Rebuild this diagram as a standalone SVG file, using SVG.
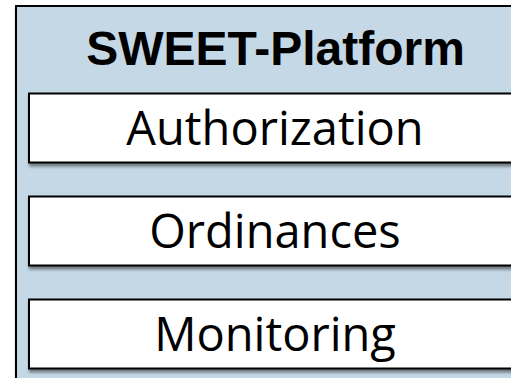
<svg xmlns="http://www.w3.org/2000/svg" width="511" height="378" viewBox="0 0 511 378">
<defs>
<filter id="sh" x="-10%" y="-10%" width="120%" height="140%">
<feDropShadow dx="1" dy="3" stdDeviation="1.5" flood-color="#000" flood-opacity="0.45"/>
</filter>
<style>
.box{fill:#fff;stroke:#000;stroke-width:2;filter:url(#sh)}
.lbl{font-family:"Open Sans","Noto Sans",sans-serif;font-size:47px;fill:#000;text-anchor:middle}
.ttl{font-family:"Liberation Sans",Arial,sans-serif;font-weight:bold;font-size:48px;fill:#000;text-anchor:middle}
</style>
</defs>
<rect width="511" height="378" fill="#fff"/>
<g id="platform">
<rect x="16" y="6" width="530" height="400" fill="#c5d8e5" stroke="#000" stroke-width="2" filter="url(#sh)"/>
<text class="ttl" x="275.5" y="65">SWEET-Platform</text>
</g>
<g id="authorization">
<rect class="box" x="29" y="93.5" width="500" height="69"/>
<text class="lbl" x="275" y="145">Authorization</text>
</g>
<g id="ordinances">
<rect class="box" x="29" y="196.5" width="500" height="69"/>
<text class="lbl" x="275" y="248">Ordinances</text>
</g>
<g id="monitoring">
<rect class="box" x="29" y="299.5" width="500" height="69"/>
<text class="lbl" x="275" y="351">Monitoring</text>
</g>
<g id="connectors"/>
</svg>
